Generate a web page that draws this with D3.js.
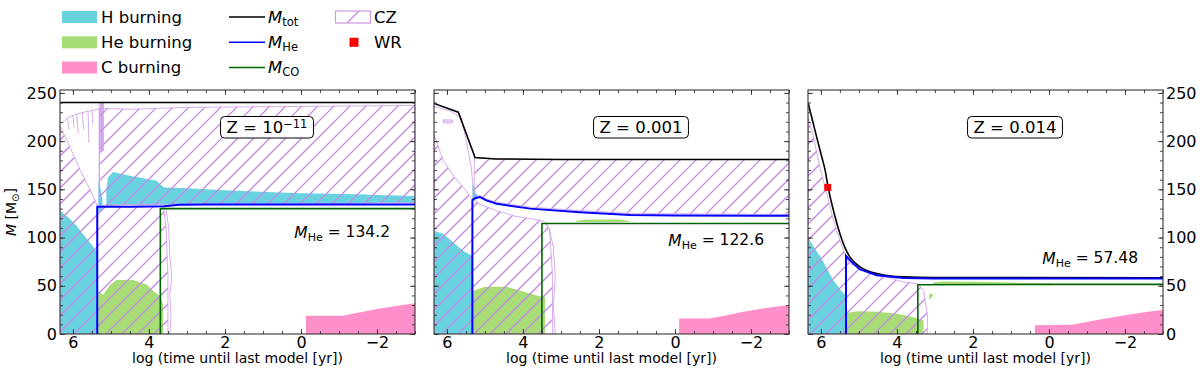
<!DOCTYPE html>
<html lang="en">
<head>
<meta charset="UTF-8">
<title>Kippenhahn diagrams</title>
<style>
  body { margin: 0; background: #fff; }
  text { font-family: "DejaVu Sans", sans-serif; fill: #000; }
</style>
</head>
<body>
<script src="https://d3js.org/d3.v7.min.js"></script>
<script>
// lines are [log t, M], filled zones are [log t, M_low, M_high]
const xTicks = [6, 4, 2, 0, -2];
const yTicks = [0, 50, 100, 150, 200, 250];
const zLabels = ['0.001', '0.014'];
const heLabels = ['134.2', '122.6', '57.48'];

// Z = 1e-11
const z11Mtot = [[6.34, 240], [-3, 240]];
const z11MHe = [[5.36, 0], [5.36, 132], [4.5, 132], [3.6, 132.5], [3.2, 134], [2.5, 134.2], [-3, 134.2]];
const z11MCO = [[3.7, 0], [3.7, 130], [-3, 130]];
const z11H = [
  [[6.34, 0, 128], [6.1, 0, 120], [5.9, 0, 112], [5.7, 0, 102], [5.5, 0, 92], [5.36, 0, 85]],
  [[5.12, 133, 150], [5.08, 133, 162], [4.95, 134, 168], [4.5, 134, 164], [3.8, 134, 159], [3.7, 134, 155],
   [3.6, 134, 152], [3.0, 135, 151], [2.0, 135, 149], [0, 135, 146], [-1.5, 135, 145], [-2.0, 136, 144], [-3, 136, 143]],
  [[5.33, 127, 160], [5.27, 128, 150], [5.22, 130, 138]]
];
const z11He = [
  [[5.36, 0, 44], [5.2, 0, 41], [5.02, 0, 51], [4.85, 0, 56], [4.41, 0, 56], [4.06, 0, 51], [3.8, 0, 42], [3.68, 0, 38], [3.63, 0, 30]]
];
const z11C = [[-0.13, 0, 19], [-1.1, 0, 19], [-1.5, 0, 22], [-2.0, 0, 26], [-2.5, 0, 29], [-3, 0, 32]];
const z11CZ = [
  [[6.34, 0, 216], [6.07, 0, 193], [5.81, 0, 170], [5.55, 0, 150], [5.36, 0, 133], [4.5, 0, 132], [3.62, 0, 132], [3.55, 0, 110], [3.5, 0, 60], [3.5, 0, 0]],
  [[5.3, 133, 234], [4.5, 134, 233], [3.0, 135, 235], [0, 135, 236], [-3, 136, 237]]
];
const z11Edges = [
  [[6.3, 218], [6.15, 224], [5.9, 228], [5.6, 231], [5.3, 233]],
  [[6.15, 224], [6.1, 212]], [[6.0, 227], [5.97, 214]], [[5.9, 228], [5.86, 208]],
  [[5.75, 230], [5.72, 212]], [[5.6, 231], [5.58, 198]], [[5.5, 232], [5.48, 218]],
  [[5.31, 133], [5.31, 240]],
  [[3.55, 130], [3.48, 110], [3.45, 80], [3.4, 60], [3.45, 40], [3.42, 20], [3.45, 0]]
];
const z11Bar = [[5.27, 188, 240], [5.2, 190, 240]];

// Z = 0.001
const z3Mtot = [[6.34, 239], [5.7, 230], [5.26, 183], [4.7, 181.5], [3, 181], [-3, 181]];
const z3MHe = [[5.33, 0], [5.33, 139], [5.25, 141], [5.13, 142], [4.96, 138.5], [4.69, 135], [3.81, 130],
  [2.5, 126.3], [1.18, 123.5], [0, 122.8], [-3, 122.6]];
const z3MCO = [[3.5, 0], [3.5, 114.5], [-3, 114.5]];
const z3H = [
  [[6.34, 0, 107], [6.1, 0, 104], [5.83, 0, 95], [5.57, 0, 86], [5.33, 0, 81]],
  [[5.33, 138, 156], [5.25, 139, 147], [5.15, 141, 141]]
];
const z3He = [
  [[5.33, 0, 44], [5.1, 0, 48], [4.96, 0, 49], [4.43, 0, 49], [4.0, 0, 44], [3.64, 0, 40], [3.42, 0, 38]],
  [[2.6, 116.5, 117.5], [2.3, 115.8, 118.6], [1.5, 115.8, 118.6], [1.2, 116.5, 117.5]]
];
const z3C = [[-0.11, 0, 16], [-0.9, 0, 16], [-1.3, 0, 19], [-1.8, 0, 23], [-2.4, 0, 27], [-3, 0, 30]];
const z3CZ = [
  [[6.34, 0, 207], [6.1, 0, 180], [5.83, 0, 164], [5.57, 0, 152], [5.35, 0, 141], [5.1, 0, 134],
   [4.7, 0, 128], [4.2, 0, 122], [3.7, 0, 119], [3.45, 0, 117], [3.3, 0, 108], [3.22, 0, 60], [3.22, 0, 0]],
  [[5.28, 142, 183], [5.13, 143.5, 182.5], [4.96, 140, 182], [4.69, 136.5, 181.5], [3.81, 131.5, 181],
   [2.5, 128, 181], [1.18, 125, 181], [-3, 124, 181]]
];
const z3Edges = [
  [[6.34, 236], [5.9, 231], [5.62, 224], [5.49, 200], [5.36, 173], [5.31, 152], [5.3, 140]],
  [[3.4, 116], [3.3, 108], [3.2, 90], [3.15, 60], [3.2, 30], [3.15, 0]]
];
const z3Bar = [[6.1, 219, 222], [5.85, 219, 222]];

// Z = 0.014
const z14Mtot = [[6.34, 240], [6.2, 218], [6.02, 190], [5.94, 178], [5.89, 170], [5.81, 152], [5.67, 128],
  [5.5, 104], [5.35, 88], [5.24, 80], [4.97, 69.5], [4.53, 62.7], [3.83, 59.2], [3, 58.5], [-3, 58.3]];
const z14MHe = [[5.34, 0], [5.34, 81], [5.2, 75], [4.97, 67], [4.53, 61], [3.83, 58], [3, 57.6], [-3, 57.5]];
const z14MCO = [[3.45, 0], [3.45, 51], [0, 51.5], [-3, 51.5]];
const z14H = [
  [[6.34, 0, 100], [6.15, 0, 88], [5.95, 0, 76], [5.68, 0, 56], [5.45, 0, 44], [5.34, 0, 40]]
];
const z14He = [
  [[5.34, 0, 22], [5.0, 0, 23.5], [4.5, 0, 23], [4.0, 0, 21], [3.6, 0, 18], [3.3, 0, 14]],
  [[3.05, 51.5, 53.5], [2.8, 51.5, 54.5], [2.0, 51.5, 54.3], [1.0, 51.5, 53.3], [-0.1, 51.5, 52]],
  [[3.15, 35, 42], [3.05, 40, 41]]
];
const z14C = [[0.37, 0, 9], [-0.6, 0, 9.5], [-1.2, 0, 14], [-2.0, 0, 19.5], [-2.6, 0, 23], [-3, 0, 25]];
const z14CZ = [
  [[6.34, 0, 225], [6.2, 0, 205], [6.02, 0, 172], [5.81, 0, 140], [5.67, 0, 118], [5.5, 0, 97], [5.34, 0, 80],
   [5.24, 0, 73], [4.71, 0, 64], [3.83, 0, 54], [3.45, 0, 52], [3.3, 0, 45], [3.2, 0, 20], [3.2, 0, 0]]
];
const z14Edges = [];
const z14Bar = [];
const wrPoint = [5.82, 152];

const panels = [
  { z: null, he: heLabels[0], heY: 105, Mtot: z11Mtot, MHe: z11MHe, MCO: z11MCO, H: z11H, He: z11He, C: z11C, cz: z11CZ, edges: z11Edges, bar: z11Bar },
  { z: zLabels[0], he: heLabels[1], heY: 97, Mtot: z3Mtot, MHe: z3MHe, MCO: z3MCO, H: z3H, He: z3He, C: z3C, cz: z3CZ, edges: z3Edges, bar: z3Bar },
  { z: zLabels[1], he: heLabels[2], heY: 78, Mtot: z14Mtot, MHe: z14MHe, MCO: z14MCO, H: z14H, He: z14He, C: z14C, cz: z14CZ, edges: z14Edges, bar: z14Bar }
];

const hColor = '#68d2df', heColor = '#a8dc76', cColor = '#ff8fc8', czColor = '#cc99e6', hatchColor = '#c488e6';
const W = 1200, H = 373;
const lefts = [60, 434, 808], pw = 355, plotTop = 90, plotBottom = 334;

const svg = d3.select('body').append('svg').attr('width', W).attr('height', H);
const defs = svg.append('defs');

// diagonal hatch lines, anchored to the page so they run on across panels
const hatchStep = 16;
function drawHatch(sel, y0, y1, from) {
  const span = y1 - y0;
  d3.range(from, W + 50, hatchStep).forEach(k => {
    sel.append('line').attr('x1', k).attr('y1', y1).attr('x2', k + span).attr('y2', y0)
      .attr('stroke', hatchColor).attr('stroke-width', 1.25);
  });
}

panels.forEach((p, i) => {
  const x = d3.scaleLinear().domain([6.34, -3.0]).range([lefts[i], lefts[i] + pw]);
  const y = d3.scaleLinear().domain([0, 253]).range([plotBottom, plotTop]);
  const band = d3.area().x(d => x(d[0])).y0(d => y(d[1])).y1(d => y(d[2]));
  const line = d3.line().x(d => x(d[0])).y(d => y(d[1]));
  // only the Z = 0.014 mass-loss curve is smooth, the others have kinks
  const totLine = i === 2 ? d3.line().x(d => x(d[0])).y(d => y(d[1])).curve(d3.curveMonotoneX) : line;

  defs.append('clipPath').attr('id', 'clip' + i).append('rect')
    .attr('x', lefts[i]).attr('y', plotTop).attr('width', pw).attr('height', plotBottom - plotTop);
  const czClip = defs.append('clipPath').attr('id', 'czclip' + i);
  p.cz.forEach(b => czClip.append('path').attr('d', band(b)));

  const g = svg.append('g');
  const body = g.append('g').attr('clip-path', `url(#clip${i})`);

  p.H.forEach(b => body.append('path').attr('d', band(b)).attr('fill', hColor));
  p.He.forEach(b => body.append('path').attr('d', band(b)).attr('fill', heColor));
  body.append('path').attr('d', band(p.C)).attr('fill', cColor);

  drawHatch(body.append('g').attr('clip-path', `url(#czclip${i})`), plotTop - 10, plotBottom + 10, -400);
  p.cz.forEach(b => body.append('path').attr('d', band(b))
    .attr('fill', 'none').attr('stroke', czColor).attr('stroke-width', 0.8));
  p.edges.forEach(l => body.append('path').attr('d', line(l))
    .attr('fill', 'none').attr('stroke', czColor).attr('stroke-width', 0.8));
  if (p.bar.length) body.append('path').attr('d', band(p.bar))
    .attr('fill', czColor).attr('fill-opacity', i === 0 ? 0.85 : 0.4).attr('stroke', czColor).attr('stroke-width', 0.8);

  body.append('path').attr('d', totLine(p.Mtot)).attr('fill', 'none').attr('stroke', '#000').attr('stroke-width', 1.6);
  body.append('path').attr('d', line(p.MHe)).attr('fill', 'none').attr('stroke', '#0000ff').attr('stroke-width', 2);
  body.append('path').attr('d', line(p.MCO)).attr('fill', 'none').attr('stroke', '#006400').attr('stroke-width', 1.6);

  if (i === 2) {
    body.append('rect').attr('x', x(wrPoint[0]) - 3.5).attr('y', y(wrPoint[1]) - 3.5)
      .attr('width', 7).attr('height', 7).attr('fill', '#ff0000');
  }

  // axes with inward ticks on all sides
  const minorX = d3.range(-3, 6.5, 0.5);
  const minorY = d3.range(0, 253, 10);
  const mk = (axis, scale, vals, size, labels) => axis(scale).tickValues(vals).tickSizeInner(-size)
    .tickSizeOuter(0).tickPadding(3).tickFormat(labels ? (d => d < 0 ? '\u2212' + (-d) : d) : '');
  const axes = [
    [d3.axisBottom, x, plotBottom, null, true],
    [d3.axisTop, x, plotTop, null, false],
    [d3.axisLeft, y, null, lefts[i], i === 0],
    [d3.axisRight, y, null, lefts[i] + pw, i === 2]
  ];
  axes.forEach(([ax, sc, ty, tx, lab]) => {
    const isX = sc === x;
    const tr = isX ? `translate(0,${ty})` : `translate(${tx},0)`;
    const gm = g.append('g').attr('transform', tr).call(mk(ax, sc, isX ? minorX : minorY, 3, false));
    const gM = g.append('g').attr('transform', tr).call(mk(ax, sc, isX ? xTicks : yTicks, 5, lab));
    gm.selectAll('text').remove();
    if (!lab) gM.selectAll('text').remove();
    [gm, gM].forEach(a => {
      a.select('.domain').remove();
      a.selectAll('line').attr('stroke', '#333').attr('stroke-width', 0.9);
      a.selectAll('text').style('font-size', '16px').style('font-family', '"DejaVu Sans", sans-serif').attr('fill', '#000');
    });
  });
  g.append('rect').attr('x', lefts[i]).attr('y', plotTop).attr('width', pw).attr('height', plotBottom - plotTop)
    .attr('fill', 'none').attr('stroke', '#333').attr('stroke-width', 1.1);

  g.append('text').attr('x', lefts[i] + pw / 2).attr('y', 363).attr('text-anchor', 'middle')
    .style('font-size', '14px').text('log (time until last model [yr])');

  // Z label box
  const zt = g.append('text').attr('x', lefts[i] + 207).attr('y', 127).attr('dy', '0.36em')
    .attr('text-anchor', 'middle').style('font-size', '16.5px');
  if (p.z === null) {
    zt.append('tspan').text('Z = 10');
    zt.append('tspan').attr('dy', '-0.45em').style('font-size', '11.5px').text('\u221211');
  } else {
    zt.text('Z = ' + p.z);
  }
  const bb = zt.node().getBBox();
  g.insert('rect', () => zt.node()).attr('x', bb.x - 6).attr('y', 116.5).attr('width', bb.width + 12).attr('height', 21.5)
    .attr('rx', 4).attr('fill', '#fff').attr('stroke', '#000').attr('stroke-width', 1);

  // M_He label
  const ht = g.append('text').attr('x', lefts[i] + pw - 25).attr('y', y(p.heY)).attr('dy', '0.36em')
    .attr('text-anchor', 'end').style('font-size', '15.5px');
  ht.append('tspan').style('font-style', 'italic').text('M');
  ht.append('tspan').attr('dy', '0.25em').style('font-size', '11px').text('He');
  ht.append('tspan').attr('dy', '-0.25em').text(' = ' + p.he);
});

// y label
const yl = svg.append('text').attr('transform', `translate(16,${(plotTop + plotBottom) / 2}) rotate(-90)`)
  .attr('text-anchor', 'middle').style('font-size', '14px');
yl.append('tspan').style('font-style', 'italic').text('M');
yl.append('tspan').text(' [M');
yl.append('tspan').attr('dy', '0.3em').style('font-size', '10px').text('\u2299');
yl.append('tspan').attr('dy', '-0.3em').text(']');

// legend
const legendFills = [['H burning', hColor], ['He burning', heColor], ['C burning', cColor]];
const legendLines = [['tot', '#000'], ['He', '#0000ff'], ['CO', '#006400']];
const rowY = [17, 42.3, 67.5];
const leg = svg.append('g');
legendFills.forEach(([name, col], k) => {
  leg.append('rect').attr('x', 62).attr('y', rowY[k] - 6).attr('width', 35).attr('height', 12).attr('fill', col);
  leg.append('text').attr('x', 101).attr('y', rowY[k]).attr('dy', '0.36em').style('font-size', '16.5px').text(name);
});
legendLines.forEach(([sub, col], k) => {
  leg.append('line').attr('x1', 229).attr('x2', 265).attr('y1', rowY[k]).attr('y2', rowY[k])
    .attr('stroke', col).attr('stroke-width', 1.6);
  const t = leg.append('text').attr('x', 268).attr('y', rowY[k]).attr('dy', '0.36em').style('font-size', '16.5px');
  t.append('tspan').style('font-style', 'italic').text('M');
  t.append('tspan').attr('dy', '0.25em').style('font-size', '11.5px').text(sub);
});
defs.append('clipPath').attr('id', 'czleg').append('rect')
  .attr('x', 335.5).attr('y', rowY[0] - 6).attr('width', 35).attr('height', 12);
const legHatch = leg.append('g').attr('clip-path', 'url(#czleg)');
legHatch.append('line').attr('x1', 347).attr('y1', rowY[0] + 6).attr('x2', 359).attr('y2', rowY[0] - 6)
  .attr('stroke', hatchColor).attr('stroke-width', 1.25);
leg.append('rect').attr('x', 335.5).attr('y', rowY[0] - 6).attr('width', 35).attr('height', 12)
  .attr('fill', 'none').attr('stroke', czColor).attr('stroke-width', 1.2);
leg.append('text').attr('x', 374).attr('y', rowY[0]).attr('dy', '0.36em').style('font-size', '16.5px').text('CZ');
leg.append('rect').attr('x', 349.5).attr('y', rowY[1] - 4.5).attr('width', 9).attr('height', 9).attr('fill', '#ff0000');
leg.append('text').attr('x', 374).attr('y', rowY[1]).attr('dy', '0.36em').style('font-size', '16.5px').text('WR');
</script>
</body>
</html>
